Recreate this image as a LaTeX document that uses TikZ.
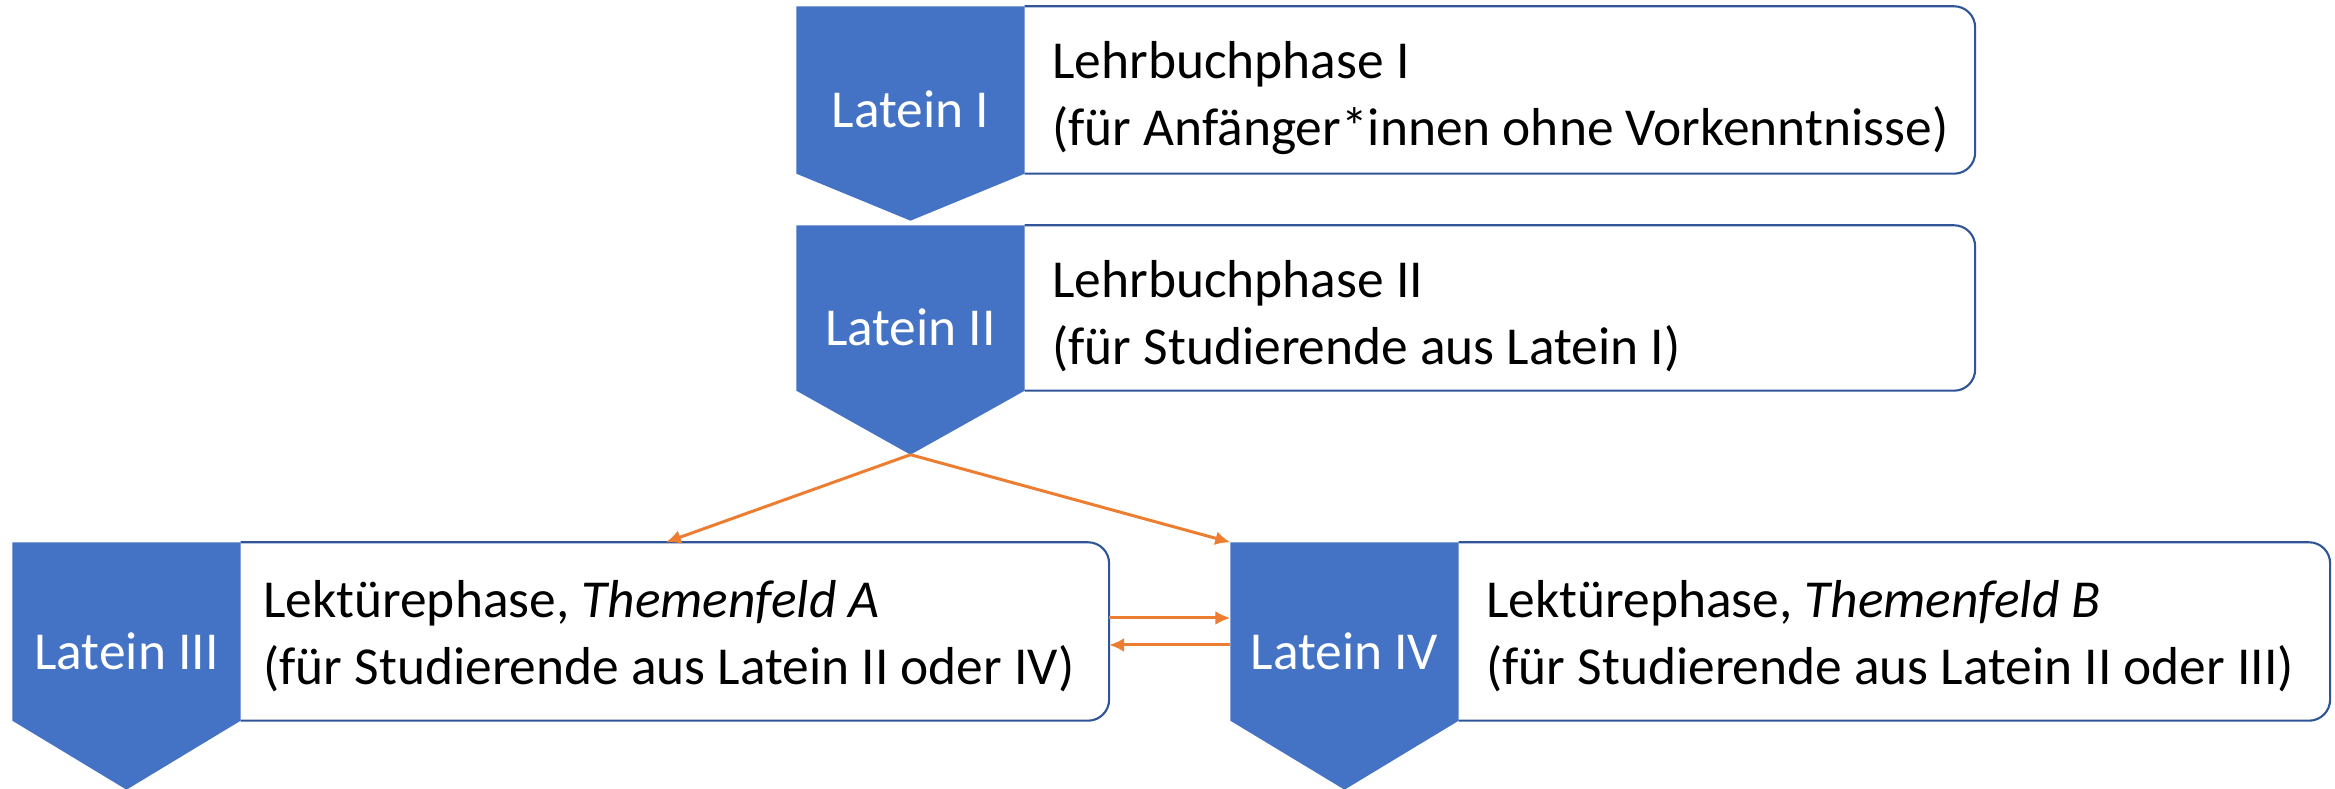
\documentclass[tikz,border=0pt]{standalone}
\usepackage{fontspec}
\setmainfont{Carlito}
\usetikzlibrary{positioning,arrows.meta}
\definecolor{chevblue}{HTML}{4472C4}
\definecolor{rimblue}{HTML}{2F5597}
\definecolor{flow}{HTML}{ED7D31}
\begin{document}
\begin{tikzpicture}

      \tikzset{chev/.style={inner sep=0pt, minimum width=2.27cm},
               slot/.style={inner sep=0pt},
               rim/.style={draw=rimblue, line width=0.6pt, rounded corners=6pt},
               tag/.style={text=white, inner sep=0pt, font=\fontsize{15.2}{18}\selectfont},
               phase/.style={align=left, inner sep=0pt, font=\fontsize{15.2}{19}\selectfont},
               flowline/.style={->, >={Latex[length=1.5mm, width=1.4mm]}, flow, line width=0.85pt}}
      \useasboundingbox (0,0) rectangle (23.35,7.89);
%% Lehrbuchphase I
      	\node[chev, minimum height=1.66cm] (c1) at (9.105,6.99) {};
      	\node[slot, minimum width=9.49cm, minimum height=1.66cm, right=0pt of c1] (b1) {};
      	\coordinate (tip1) at ([yshift=-0.47cm]c1.south);
      	\fill[chevblue] (c1.north west) -- (c1.north east) -- (c1.south east) -- (tip1) -- (c1.south west) -- cycle;
      	\draw[rim] (b1.north west) -- (b1.north east) -- (b1.south east) -- (b1.south west);
      	\node[tag] (l1) at ([yshift=-0.19cm]c1.center) {Latein I};
      	\node[phase, right=0.27cm of b1.west, yshift=-0.08cm] (t1) {Lehrbuchphase I\\(für Anfänger*innen ohne Vorkenntnisse)};
%% Lehrbuchphase II
      	\node[chev, minimum height=1.64cm] (c2) at (9.105,4.81) {};
      	\node[slot, minimum width=9.49cm, minimum height=1.64cm, right=0pt of c2] (b2) {};
      	\coordinate (tip2) at ([yshift=-0.64cm]c2.south);
      	\fill[chevblue] (c2.north west) -- (c2.north east) -- (c2.south east) -- (tip2) -- (c2.south west) -- cycle;
      	\draw[rim] (b2.north west) -- (b2.north east) -- (b2.south east) -- (b2.south west);
      	\node[tag] (l2) at ([yshift=-0.19cm]c2.center) {Latein II};
      	\node[phase, right=0.27cm of b2.west, yshift=-0.08cm] (t2) {Lehrbuchphase II\\(für Studierende aus Latein I)};
%% Lektuerephase A
      	\node[chev, minimum height=1.77cm] (c3) at (1.265,1.575) {};
      	\node[slot, minimum width=8.67cm, minimum height=1.77cm, right=0pt of c3] (b3) {};
      	\coordinate (tip3) at ([yshift=-0.69cm]c3.south);
      	\fill[chevblue] (c3.north west) -- (c3.north east) -- (c3.south east) -- (tip3) -- (c3.south west) -- cycle;
      	\draw[rim] (b3.north west) -- (b3.north east) -- (b3.south east) -- (b3.south west);
      	\node[tag] (l3) at ([yshift=-0.2cm]c3.center) {Latein III};
      	\node[phase, right=0.22cm of b3.west, yshift=-0.045cm] (t3) {Lektürephase, \textit{Themenfeld A}\\(für Studierende aus Latein II oder IV)};
%% Lektuerephase B
      	\node[chev, minimum height=1.77cm] (c4) at (13.445,1.575) {};
      	\node[slot, minimum width=8.70cm, minimum height=1.77cm, right=0pt of c4] (b4) {};
      	\coordinate (tip4) at ([yshift=-0.69cm]c4.south);
      	\fill[chevblue] (c4.north west) -- (c4.north east) -- (c4.south east) -- (tip4) -- (c4.south west) -- cycle;
      	\draw[rim] (b4.north west) -- (b4.north east) -- (b4.south east) -- (b4.south west);
      	\node[tag] (l4) at ([yshift=-0.2cm]c4.center) {Latein IV};
      	\node[phase, right=0.27cm of b4.west, yshift=-0.045cm] (t4) {Lektürephase, \textit{Themenfeld B}\\(für Studierende aus Latein II oder III)};
%Edges
		\path [flowline] (tip2) edge ([xshift=-0.09cm]b3.north);
		\path [flowline] (tip2) edge (c4.north west);
		\path [flowline] ([yshift=0.135cm]b3.east) edge ([yshift=0.135cm]c4.west);
		\path [flowline] ([yshift=-0.135cm]c4.west) edge ([yshift=-0.135cm]b3.east);

	\end{tikzpicture}
\end{document}
